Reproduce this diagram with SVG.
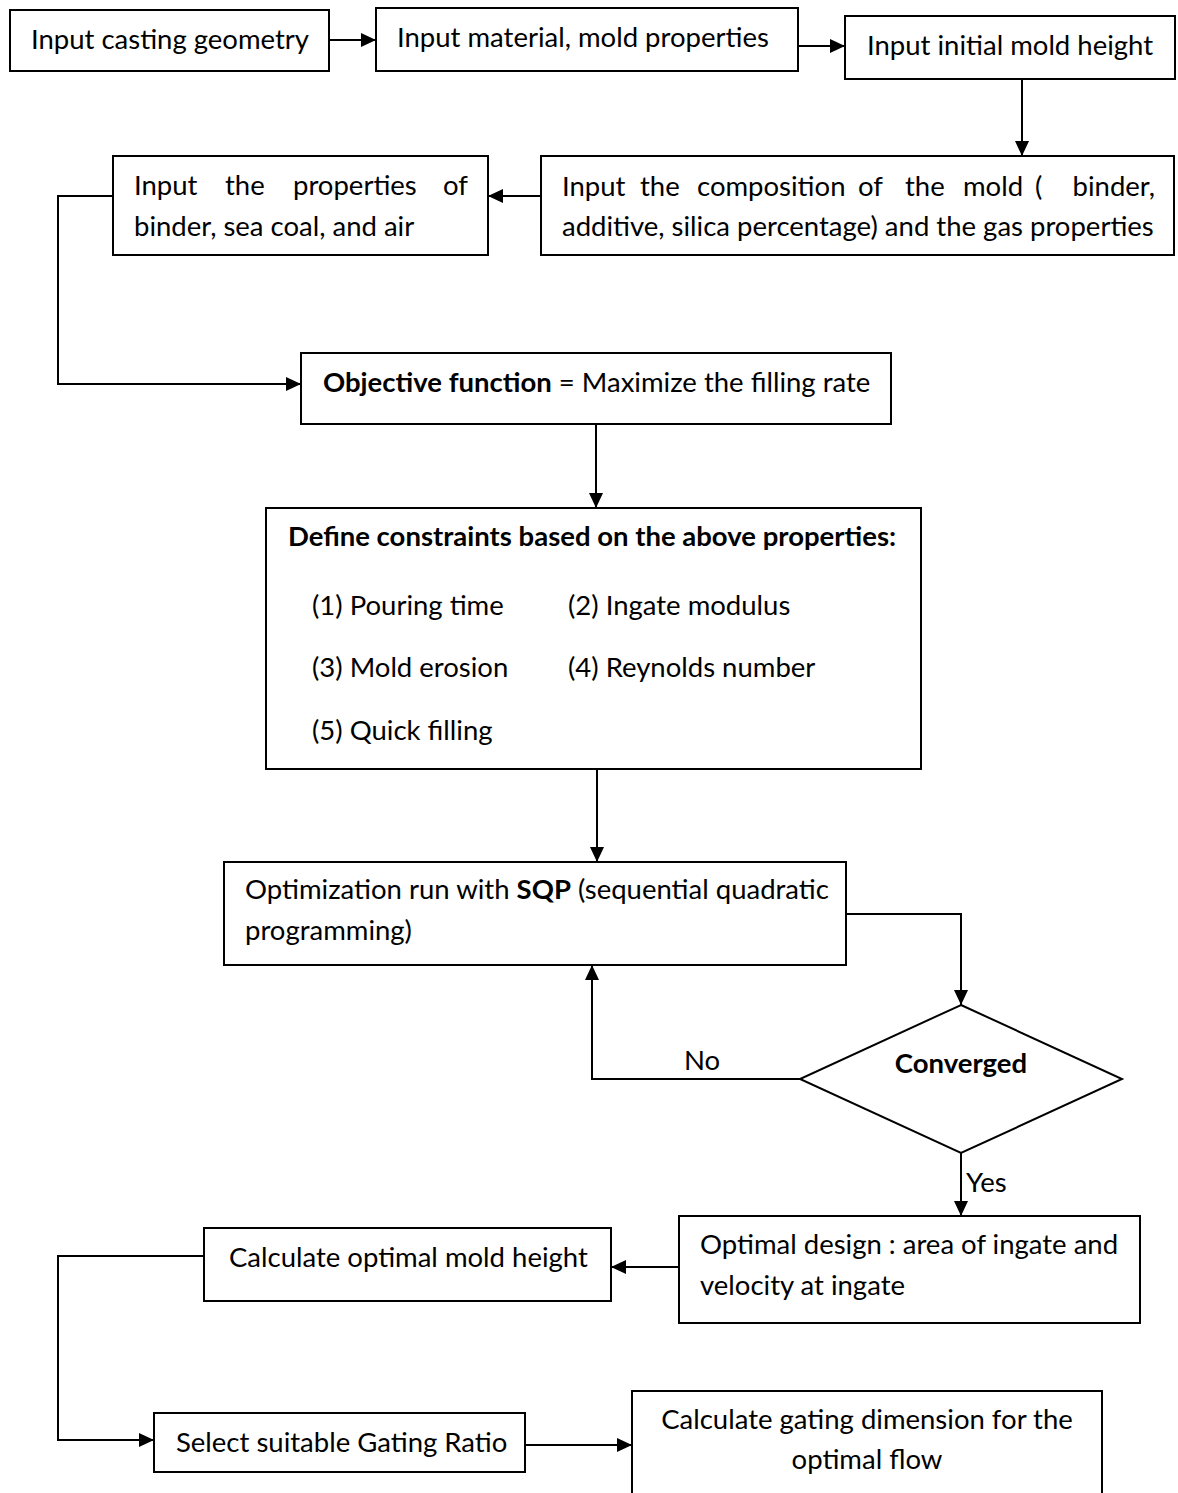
<svg xmlns="http://www.w3.org/2000/svg" width="1178" height="1493" viewBox="0 0 1178 1493">
<style>
text{font-family:Lato,"Noto Sans","Liberation Sans",sans-serif;font-size:27.5px;fill:#000}
.b{font-weight:bold}
.box{fill:#fff;stroke:#000;stroke-width:2}
.c{fill:none;stroke:#000;stroke-width:2}
</style>
<defs>
<marker id="ah" markerUnits="userSpaceOnUse" markerWidth="16" markerHeight="16" refX="15" refY="7" orient="auto">
<path d="M0,0 L15,7 L0,14 z" fill="#000"/>
</marker>
</defs>
<rect width="1178" height="1493" fill="#fff"/>
<g id="connectors">
<path class="c" d="M329,40 H376" marker-end="url(#ah)"/>
<path class="c" d="M798,46 H845" marker-end="url(#ah)"/>
<path class="c" d="M1022,79 V156" marker-end="url(#ah)"/>
<path class="c" d="M541,196 H488" marker-end="url(#ah)"/>
<path class="c" d="M113,196 H58 V384 H301" marker-end="url(#ah)"/>
<path class="c" d="M596,424 V508" marker-end="url(#ah)"/>
<path class="c" d="M597,769 V862" marker-end="url(#ah)"/>
<path class="c" d="M846,914 H961 V1005" marker-end="url(#ah)"/>
<path class="c" d="M800,1079 H592 V965" marker-end="url(#ah)"/>
<path class="c" d="M961,1153 V1216" marker-end="url(#ah)"/>
<path class="c" d="M679,1267 H611" marker-end="url(#ah)"/>
<path class="c" d="M204,1256 H58 V1440 H154" marker-end="url(#ah)"/>
<path class="c" d="M525,1445 H632" marker-end="url(#ah)"/>
<text x="702" y="1070" text-anchor="middle">No</text>
<text x="966" y="1192">Yes</text>
</g>
<g id="n1">
<rect class="box" x="10" y="10" width="319" height="61"/>
<text x="170" y="49" text-anchor="middle">Input casting geometry</text>
</g>
<g id="n2">
<rect class="box" x="376" y="8" width="422" height="63"/>
<text x="397" y="47">Input material, mold properties</text>
</g>
<g id="n3">
<rect class="box" x="845" y="16" width="330" height="63"/>
<text x="867" y="55">Input initial mold height</text>
</g>
<g id="n4">
<rect class="box" x="541" y="156" width="633" height="99"/>
<text y="196"><tspan x="562">Input</tspan><tspan x="640">the</tspan><tspan x="697">composition</tspan><tspan x="858">of</tspan><tspan x="905">the</tspan><tspan x="963">mold</tspan><tspan x="1035">(</tspan><tspan x="1155" text-anchor="end">binder,</tspan></text>
<text x="562" y="236">additive, silica percentage) and the gas properties</text>
</g>
<g id="n5">
<rect class="box" x="113" y="156" width="375" height="99"/>
<text y="195"><tspan x="134">Input</tspan><tspan x="225">the</tspan><tspan x="293">properties</tspan><tspan x="468" text-anchor="end">of</tspan></text>
<text x="134" y="236">binder, sea coal, and air</text>
</g>
<g id="n6">
<rect class="box" x="301" y="353" width="590" height="71"/>
<text x="323" y="392"><tspan class="b">Objective function</tspan> = Maximize the filling rate</text>
</g>
<g id="n7">
<rect class="box" x="266" y="508" width="655" height="261"/>
<text class="b" x="288" y="546">Define constraints based on the above properties:</text>
<text x="312" y="615">(1) Pouring time</text>
<text x="568" y="615">(2) Ingate modulus</text>
<text x="312" y="677">(3) Mold erosion</text>
<text x="568" y="677">(4) Reynolds number</text>
<text x="312" y="740">(5) Quick filling</text>
</g>
<g id="n8">
<rect class="box" x="224" y="862" width="622" height="103"/>
<text x="245" y="899">Optimization run with <tspan class="b">SQP</tspan> (sequential quadratic</text>
<text x="245" y="940">programming)</text>
</g>
<g id="n9">
<polygon class="box" points="961,1005 1122,1079 961,1153 800,1079"/>
<text class="b" x="961" y="1073" text-anchor="middle">Converged</text>
</g>
<g id="n10">
<rect class="box" x="679" y="1216" width="461" height="107"/>
<text x="700" y="1254">Optimal design : area of ingate and</text>
<text x="700" y="1295">velocity at ingate</text>
</g>
<g id="n11">
<rect class="box" x="204" y="1228" width="407" height="73"/>
<text x="229" y="1267">Calculate optimal mold height</text>
</g>
<g id="n12">
<rect class="box" x="154" y="1413" width="371" height="59"/>
<text x="176" y="1452">Select suitable Gating Ratio</text>
</g>
<g id="n13">
<rect class="box" x="632" y="1391" width="470" height="120"/>
<text x="867" y="1429" text-anchor="middle">Calculate gating dimension for the</text>
<text x="867" y="1469" text-anchor="middle">optimal flow</text>
</g>
</svg>
